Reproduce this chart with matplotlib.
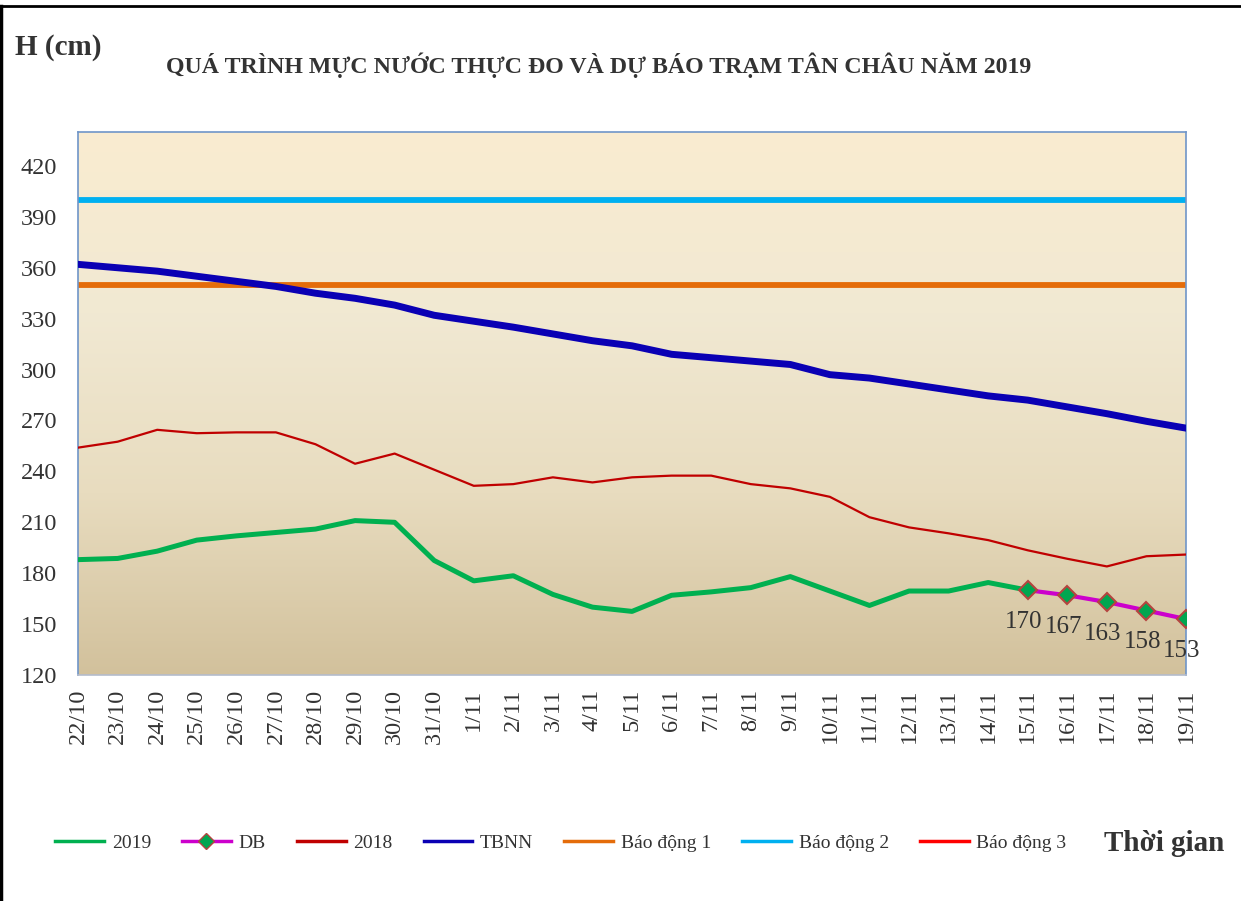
import numpy as np
import matplotlib
matplotlib.use("Agg")
import matplotlib.pyplot as plt
from matplotlib.lines import Line2D
from matplotlib.colors import LinearSegmentedColormap

plt.rcParams['font.family'] = ['Liberation Serif', 'DejaVu Serif']

# Dữ liệu
ngay = ['22/10', '23/10', '24/10', '25/10', '26/10', '27/10', '28/10', '29/10', '30/10', '31/10',
        '1/11', '2/11', '3/11', '4/11', '5/11', '6/11', '7/11', '8/11', '9/11', '10/11',
        '11/11', '12/11', '13/11', '14/11', '15/11', '16/11', '17/11', '18/11', '19/11']
h_2019 = [188, 188.7, 193, 199.5, 202, 204, 206, 211, 210, 187.5,
          175.5, 178.5, 167.5, 160, 157.5, 167, 169, 171.5, 178, 169.5,
          161, 169.5, 169.5, 174.5, 170]
h_db = [170, 167, 163, 158, 153]
h_2018 = [254, 257.5, 264.5, 262.5, 263, 263, 256, 244.5, 250.5, 241,
          231.5, 232.5, 236.5, 233.5, 236.5, 237.5, 237.5, 232.5, 230, 225,
          213, 207, 203.5, 199.5, 193.5, 188.5, 184, 190, 191]
h_tbnn = [362, 360, 358, 355, 352, 349, 345, 342, 338, 332,
          328.5, 325, 321, 317, 314, 309, 307, 305, 303, 297,
          295, 291.5, 288, 284.5, 282, 278, 274, 269.5, 265.5]
bao_dong_1 = 350
bao_dong_2 = 400
bao_dong_3 = 450

x = np.arange(len(ngay))
x_db = x[len(h_2019) - 1:]

fig = plt.figure(figsize=(12.41, 9.01), dpi=100)
ax = fig.add_axes([0.0629, 0.2508, 0.8928, 0.6027])

# nền gradient
cmap = LinearSegmentedColormap.from_list('nen', ['#d2c19c', '#e8dcbf', '#f1e9d3', '#faecd0'])
grad = np.linspace(0, 1, 256).reshape(-1, 1)
ax.imshow(grad, aspect='auto', cmap=cmap, origin='lower',
          extent=[0, len(ngay) - 1, 120, 440], zorder=0)

ax.axhline(bao_dong_2, color='#00b0f0', lw=4.2, zorder=2)
ax.axhline(bao_dong_1, color='#e46c0a', lw=4.2, zorder=2)
ax.axhline(bao_dong_3, color='#ff0000', lw=2, zorder=2)
ax.plot(x, h_tbnn, color='#0a00b4', lw=5, zorder=3, solid_joinstyle='round')
ax.plot(x, h_2018, color='#c00000', lw=1.6, zorder=3, solid_joinstyle='round')
ax.plot(x[:len(h_2019)], h_2019, color='#00b050', lw=3.6, zorder=3, solid_joinstyle='round')
ax.plot(x_db, h_db, color='#cc00cc', lw=3, marker='D', ms=9, solid_joinstyle='round',
        mfc='#00a650', mec='#b5443f', mew=1.5, zorder=4)

for xi, v in zip(x_db, h_db):
    ax.annotate(str(v), (xi, v), xytext=(-3, -15), textcoords='offset points',
                ha='center', va='top', fontsize=18, color='#333333')

ax.set_xlim(0, len(ngay) - 1)
ax.set_ylim(120, 440)
ax.set_yticks(range(120, 421, 30))
ax.set_xticks(x)
ax.set_xticklabels(ngay, rotation=90, fontsize=17.5, color='#333333')
ax.tick_params(axis='y', labelsize=17.5, labelcolor='#333333', length=0, pad=15)
ax.tick_params(axis='x', length=0, pad=10)
for s in ax.spines.values():
    s.set_color('#6f95c8')
    s.set_linewidth(1.2)
ax.spines['bottom'].set_color('#b4bccc')

fig.text(0.012, 0.947, 'H (cm)', fontsize=21, fontweight='bold', color='#333333', va='center')
fig.text(0.4827, 0.928, 'QUÁ TRÌNH MỰC NƯỚC THỰC ĐO VÀ DỰ BÁO TRẠM TÂN CHÂU NĂM 2019',
         fontsize=17.2, fontweight='bold', color='#333333', ha='center', va='center')
fig.text(0.890, 0.064, 'Thời gian', fontsize=21, fontweight='bold', color='#333333', va='center')

handles = [
    Line2D([], [], color='#00b050', lw=2.5),
    Line2D([], [], color='#cc00cc', lw=2.5, marker='D', ms=8, mfc='#00a650', mec='#b5443f'),
    Line2D([], [], color='#c00000', lw=2.5),
    Line2D([], [], color='#0a00b4', lw=2.5),
    Line2D([], [], color='#e46c0a', lw=2.5),
    Line2D([], [], color='#00b0f0', lw=2.5),
    Line2D([], [], color='#ff0000', lw=2.5),
]
labels = ['2019', 'DB', '2018', 'TBNN', 'Báo động 1', 'Báo động 2', 'Báo động 3']
fig.legend(handles, labels, loc='center', bbox_to_anchor=(0.452, 0.064), ncol=7,
           frameon=False, fontsize=14, handlelength=2.5, handletextpad=0.4,
           columnspacing=1.6, labelcolor='#333333')

# khung
fig.add_artist(Line2D([0, 1], [0.9935, 0.9935], color='black', lw=2, transform=fig.transFigure))
fig.add_artist(Line2D([0.001, 0.001], [0, 0.9935], color='black', lw=2.5, transform=fig.transFigure))

fig.savefig('out.png', dpi=100)
